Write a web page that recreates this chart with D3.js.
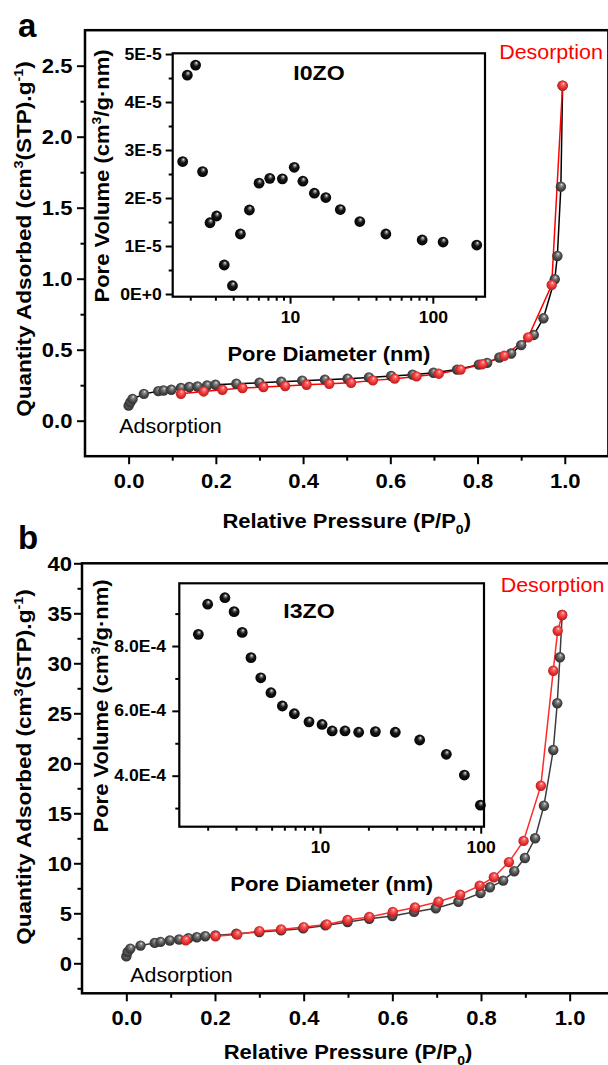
<!DOCTYPE html>
<html>
<head>
<meta charset="utf-8">
<script src="https://cdn.jsdelivr.net/npm/d3@7"></script>
<style>
  body { margin: 0; background: #fff; }
  svg { display: block; }
</style>
</head>
<body>
<svg id="fig" width="608" height="1065"></svg>
<script>
// ---------- Panel a: I0ZO N2 isotherm ----------
const aAdsP = [0, 0.004, 0.009, 0.035, 0.068, 0.08, 0.098, 0.12, 0.139, 0.158, 0.18, 0.199, 0.247, 0.3, 0.35, 0.398, 0.45, 0.502, 0.551, 0.602, 0.651, 0.699, 0.753, 0.803, 0.822, 0.85, 0.877, 0.9, 0.929, 0.951, 0.977, 0.983, 0.991, 0.995];
const aAdsQ = [0.106, 0.13, 0.153, 0.189, 0.208, 0.213, 0.218, 0.23, 0.237, 0.241, 0.248, 0.253, 0.26, 0.267, 0.274, 0.282, 0.289, 0.296, 0.305, 0.315, 0.324, 0.338, 0.36, 0.395, 0.407, 0.445, 0.473, 0.532, 0.604, 0.721, 0.996, 1.16, 1.648, 2.36];
const aDesP = [0.995, 0.97, 0.916, 0.861, 0.811, 0.761, 0.711, 0.66, 0.61, 0.56, 0.51, 0.46, 0.408, 0.359, 0.309, 0.261, 0.215, 0.172, 0.12];
const aDesQ = [2.36, 0.956, 0.587, 0.457, 0.398, 0.36, 0.331, 0.312, 0.296, 0.284, 0.267, 0.26, 0.253, 0.244, 0.237, 0.23, 0.218, 0.206, 0.189];

// Panel a inset: pore size distribution
const aPoreD = [1.77, 1.907, 2.18, 2.44, 2.75, 3.06, 3.46, 3.95, 4.49, 5.19, 6.07, 7.21, 8.84, 10.7, 12.3, 14.8, 17.8, 22.5, 30.8, 46.9, 84.2, 118, 203];
const aPoreV = [2.76e-5, 4.56e-5, 4.77e-5, 2.55e-5, 1.485e-5, 1.625e-5, 0.604e-5, 0.173e-5, 1.25e-5, 1.75e-5, 2.31e-5, 2.41e-5, 2.40e-5, 2.64e-5, 2.35e-5, 2.10e-5, 2.01e-5, 1.76e-5, 1.51e-5, 1.25e-5, 1.125e-5, 1.083e-5, 1.02e-5];

// ---------- Panel b: I3ZO N2 isotherm ----------
const bAdsP = [0, 0.003, 0.009, 0.032, 0.064, 0.077, 0.098, 0.119, 0.14, 0.159, 0.178, 0.201, 0.248, 0.3, 0.349, 0.399, 0.449, 0.499, 0.548, 0.6, 0.649, 0.698, 0.749, 0.799, 0.82, 0.85, 0.875, 0.899, 0.922, 0.942, 0.963, 0.972, 0.978, 0.983];
const bAdsQ = [0.69, 1.13, 1.47, 1.77, 2.04, 2.14, 2.28, 2.38, 2.5, 2.61, 2.71, 2.78, 2.95, 3.12, 3.29, 3.49, 3.79, 4.13, 4.46, 4.73, 5.14, 5.51, 6.15, 7.02, 7.6, 8.27, 9.21, 10.53, 12.5, 15.76, 21.33, 26.0, 30.6, 34.83];
const bDesP = [0.983, 0.973, 0.963, 0.935, 0.896, 0.863, 0.829, 0.797, 0.753, 0.704, 0.651, 0.601, 0.548, 0.499, 0.452, 0.4, 0.349, 0.3, 0.25, 0.201, 0.134];
const bDesQ = [34.83, 33.26, 29.26, 17.76, 12.24, 10.12, 8.61, 7.76, 6.86, 6.15, 5.58, 5.14, 4.63, 4.33, 3.89, 3.62, 3.39, 3.22, 2.88, 2.71, 2.31];

// Panel b inset: pore size distribution
const bPoreD = [1.75, 2.0, 2.56, 2.92, 3.28, 3.72, 4.28, 4.95, 5.83, 6.92, 8.54, 10.3, 11.9, 14.3, 17.4, 22.1, 29.4, 41.7, 61.1, 79.1, 99.5];
const bPoreV = [8.36e-4, 9.29e-4, 9.49e-4, 9.06e-4, 8.42e-4, 7.64e-4, 7.02e-4, 6.56e-4, 6.15e-4, 5.91e-4, 5.66e-4, 5.58e-4, 5.38e-4, 5.38e-4, 5.34e-4, 5.36e-4, 5.34e-4, 5.10e-4, 4.66e-4, 4.02e-4, 3.09e-4];

// ---------- Ticks ----------
const pressureTicks = [0, 0.2, 0.4, 0.6, 0.8, 1.0];
const pressureMinor = [0.1, 0.3, 0.5, 0.7, 0.9];
const aQtyTicks = [0, 0.5, 1.0, 1.5, 2.0, 2.5];
const aQtyMinor = [0.25, 0.75, 1.25, 1.75, 2.25];
const bQtyTicks = [0, 5, 10, 15, 20, 25, 30, 35, 40];
const bQtyMinor = [-2.5, 2.5, 7.5, 12.5, 17.5, 22.5, 27.5, 32.5, 37.5];
const diamTicks = [10, 100];
const aDiamMinor = [2, 3, 4, 5, 6, 7, 8, 9, 20, 30, 40, 50, 60, 70, 80, 90, 200];
const bDiamMinor = [2, 3, 4, 5, 6, 7, 8, 9, 20, 30, 40, 50, 60, 70, 80, 90];
const aVolTicks = [0, 1e-5, 2e-5, 3e-5, 4e-5, 5e-5];
const aVolLabels = ["0E+0", "1E-5", "2E-5", "3E-5", "4E-5", "5E-5"];
const aVolMinor = [0.5e-5, 1.5e-5, 2.5e-5, 3.5e-5, 4.5e-5];
const bVolTicks = [4e-4, 6e-4, 8e-4];
const bVolLabels = ["4.0E-4", "6.0E-4", "8.0E-4"];
const bVolMinor = [3e-4, 5e-4, 7e-4, 9e-4];

const FONT = '"Liberation Sans", Arial, Helvetica, sans-serif';
const SX = 1.1; // glyphs in this figure are set slightly wide

const svg = d3.select("#fig");
const defs = svg.append("defs");

// shaded-ball fills
function ball(id, stops) {
  const gr = defs.append("radialGradient").attr("id", id)
    .attr("cx", "50%").attr("cy", "50%").attr("r", "55%")
    .attr("fx", "58%").attr("fy", "28%");
  stops.forEach(([o, c]) => gr.append("stop").attr("offset", o).attr("stop-color", c));
}
ball("ballGray", [["0%", "#eeeeee"], ["22%", "#8c8c8c"], ["60%", "#4c4c4c"], ["100%", "#2a2a2a"]]);
ball("ballRed", [["0%", "#ffe0e0"], ["22%", "#ff6a6a"], ["60%", "#e83434"], ["100%", "#b01818"]]);
ball("ballBlack", [["0%", "#ffffff"], ["16%", "#8a8a8a"], ["45%", "#161616"], ["100%", "#000000"]]);

// text with optional super/subscript parts; (x, y) is the visual centre line
function label(g, x, y, parts, o) {
  const size = o.size;
  const base = o.rotate ? 0 : 0.35 * size;
  const t = g.append("text")
    .attr("transform", o.rotate
      ? `translate(${x + 0.35 * size},${y}) rotate(${o.rotate}) scale(${o.sx ?? SX},1)`
      : `translate(${x},${y + base}) scale(${o.sx ?? SX},1)`)
    .attr("text-anchor", o.anchor || "middle")
    .style("font-family", FONT)
    .style("font-size", size + "px")
    .style("font-weight", o.weight || "bold")
    .attr("fill", o.fill || "#000");
  let off = 0;
  parts.forEach(p => {
    const [s, k] = Array.isArray(p) ? p : [p, ""];
    const target = k === "sup" ? -0.4 * size : k === "sub" ? 0.28 * size : 0;
    const ts = t.append("tspan").text(s).attr("dy", target - off);
    off = target;
    if (k) ts.style("font-size", (0.64 * size) + "px");
  });
  return t;
}

function styleAxis(g, o) {
  g.select(".domain").remove();
  g.selectAll("line").attr("stroke", "#000").attr("stroke-width", o.sw);
  g.selectAll("text")
    .style("font-family", FONT)
    .style("font-size", o.size + "px")
    .style("font-weight", "bold")
    .attr("fill", "#000")
    .attr("transform", `scale(${o.sx},1)`);
}

function mainPanel(o) {
  const g = svg.append("g");
  const x = d3.scaleLinear().domain(o.xDomain).range(o.xRange);
  const y = d3.scaleLinear().domain(o.yDomain).range(o.yRange);
  const [x0, x1] = o.xRange, [y0, y1] = o.yRange;

  g.append("g").attr("transform", `translate(0,${y0})`)
    .call(d3.axisBottom(x).tickValues(pressureMinor).tickSize(4.5).tickFormat(""))
    .call(s => styleAxis(s, { sw: 2, size: 21, sx: 1.05 }));
  g.append("g").attr("transform", `translate(0,${y0})`)
    .call(d3.axisBottom(x).tickValues(pressureTicks).tickSize(8).tickPadding(9).tickFormat(d3.format(".1f")))
    .call(s => styleAxis(s, { sw: 2, size: 21, sx: 1.05 }));
  g.append("g").attr("transform", `translate(${x0},0)`)
    .call(d3.axisLeft(y).tickValues(o.yMinor).tickSize(4.5).tickFormat(""))
    .call(s => styleAxis(s, { sw: 2, size: 21, sx: 1.05 }));
  g.append("g").attr("transform", `translate(${x0},0)`)
    .call(d3.axisLeft(y).tickValues(o.yTicks).tickSize(8).tickPadding(o.yPad).tickFormat(o.yFmt))
    .call(s => styleAxis(s, { sw: 2, size: 21, sx: 1.05 }));

  g.append("rect").attr("x", x0).attr("y", y1).attr("width", x1 - x0).attr("height", y0 - y1)
    .attr("fill", "none").attr("stroke", "#000").attr("stroke-width", 2.5);

  const line = d3.line().x(d => x(d[0])).y(d => y(d[1]));
  const ads = d3.zip(o.adsP, o.adsQ), des = d3.zip(o.desP, o.desQ);
  g.append("path").attr("d", line(ads)).attr("fill", "none")
    .attr("stroke", o.adsLine).attr("stroke-width", 1.5);
  g.append("path").attr("d", line(des)).attr("fill", "none")
    .attr("stroke", o.desLine).attr("stroke-width", 1.5);
  g.append("g").selectAll("circle").data(ads).join("circle")
    .attr("cx", d => x(d[0])).attr("cy", d => y(d[1])).attr("r", 5.2)
    .attr("fill", "url(#ballGray)");
  g.append("g").selectAll("circle").data(des).join("circle")
    .attr("cx", d => x(d[0])).attr("cy", d => y(d[1])).attr("r", 5.2)
    .attr("fill", "url(#ballRed)");

  // axis titles
  label(g, x(0.5), o.xTitleY, ["Relative Pressure (P/P", ["0", "sub"], ")"], { size: 20 });
  label(g, 24, o.yTitleY, ["Quantity Adsorbed (cm", ["3", "sup"], "(STP).g", ["-1", "sup"], ")"],
    { size: 20.5, rotate: -90 });
  return { x, y, g };
}

function inset(o) {
  const g = svg.append("g");
  const x = d3.scaleLog().domain(o.xDomain).range(o.xRange);
  const y = d3.scaleLinear().domain(o.yDomain).range(o.yRange);
  const [x0, x1] = o.xRange, [y0, y1] = o.yRange;

  g.append("rect").attr("x", x0).attr("y", y1).attr("width", x1 - x0).attr("height", y0 - y1)
    .attr("fill", "#fff");
  g.append("g").attr("transform", `translate(0,${y0})`)
    .call(d3.axisBottom(x).tickValues(o.xMinor).tickSize(4).tickFormat(""))
    .call(s => styleAxis(s, { sw: 2, size: 16, sx: SX }));
  g.append("g").attr("transform", `translate(0,${y0})`)
    .call(d3.axisBottom(x).tickValues(diamTicks).tickSize(7).tickPadding(8).tickFormat(d => d))
    .call(s => styleAxis(s, { sw: 2, size: 16, sx: SX }));
  g.append("g").attr("transform", `translate(${x0},0)`)
    .call(d3.axisLeft(y).tickValues(o.yMinor).tickSize(4).tickFormat(""))
    .call(s => styleAxis(s, { sw: 2, size: 16, sx: SX }));
  g.append("g").attr("transform", `translate(${x0},0)`)
    .call(d3.axisLeft(y).tickValues(o.yTicks).tickSize(7).tickPadding(o.yPad)
      .tickFormat((d, i) => o.yLabels[i]))
    .call(s => styleAxis(s, { sw: 2, size: 16, sx: SX }));

  g.append("g").selectAll("circle").data(d3.zip(o.d, o.v)).join("circle")
    .attr("cx", d => x(d[0])).attr("cy", d => y(d[1])).attr("r", 5.4)
    .attr("fill", "url(#ballBlack)");

  g.append("rect").attr("x", x0).attr("y", y1).attr("width", x1 - x0).attr("height", y0 - y1)
    .attr("fill", "none").attr("stroke", "#000").attr("stroke-width", 2.2);

  label(g, (x0 + x1) / 2, y0 + 57, ["Pore Diameter (nm)"], { size: 20 });
  label(g, o.yTitleX, (y0 + y1) / 2 + 1, ["Pore Volume (cm", ["3", "sup"], "/g\u00B7nm)"],
    { size: 20, rotate: -90 });
  label(g, o.nameX, o.nameY, [o.name], { size: 21 });
}

// ---------- Panel a ----------
const pa = mainPanel({
  xDomain: [-0.1, 1.1], xRange: [85, 608.4],
  yDomain: [-0.25, 2.75], yRange: [456.2, 30.2],
  yTicks: aQtyTicks, yMinor: aQtyMinor, yFmt: d3.format(".1f"), yPad: 4,
  adsP: aAdsP, adsQ: aAdsQ, desP: aDesP, desQ: aDesQ,
  adsLine: "#000", desLine: "#ff0000", xTitleY: 521, yTitleY: 239
});
label(pa.g, 170.5, 426, ["Adsorption"], { size: 19.5, weight: "normal" });
label(pa.g, 551, 52, ["Desorption"], { size: 19.5, weight: "normal", fill: "#ff0000" });
label(pa.g, 18, 25, ["a"], { size: 33, anchor: "start", sx: 1 });

inset({
  xDomain: [1.507, 232], xRange: [172.7, 485],
  yDomain: [-0.056e-5, 5.015e-5], yRange: [296.7, 53.3],
  xMinor: aDiamMinor, yTicks: aVolTicks, yLabels: aVolLabels, yMinor: aVolMinor, yPad: 3,
  d: aPoreD, v: aPoreV, name: "I0ZO", nameX: 319, nameY: 72.5, yTitleX: 102
});

// ---------- Panel b ----------
const pb = mainPanel({
  xDomain: [-0.1, 1.1], xRange: [82, 614],
  yDomain: [-3, 40], yRange: [993.3, 563.3],
  yTicks: bQtyTicks, yMinor: bQtyMinor, yFmt: d3.format("d"), yPad: 1.5,
  adsP: bAdsP, adsQ: bAdsQ, desP: bDesP, desQ: bDesQ,
  adsLine: "#3c3c3c", desLine: "#ff2a2a", xTitleY: 1052, yTitleY: 767
});
label(pb.g, 181.5, 975, ["Adsorption"], { size: 19.5, weight: "normal" });
label(pb.g, 552.5, 585.5, ["Desorption"], { size: 19.5, weight: "normal", fill: "#ff0000" });
label(pb.g, 18, 537, ["b"], { size: 33, anchor: "start", sx: 1 });

inset({
  xDomain: [1.332, 104.8], xRange: [179.3, 484],
  yDomain: [2.426e-4, 9.935e-4], yRange: [826.7, 583.3],
  xMinor: bDiamMinor, yTicks: bVolTicks, yLabels: bVolLabels, yMinor: bVolMinor, yPad: 5,
  d: bPoreD, v: bPoreV, name: "I3ZO", nameX: 309, nameY: 611, yTitleX: 101
});
</script>
</body>
</html>
